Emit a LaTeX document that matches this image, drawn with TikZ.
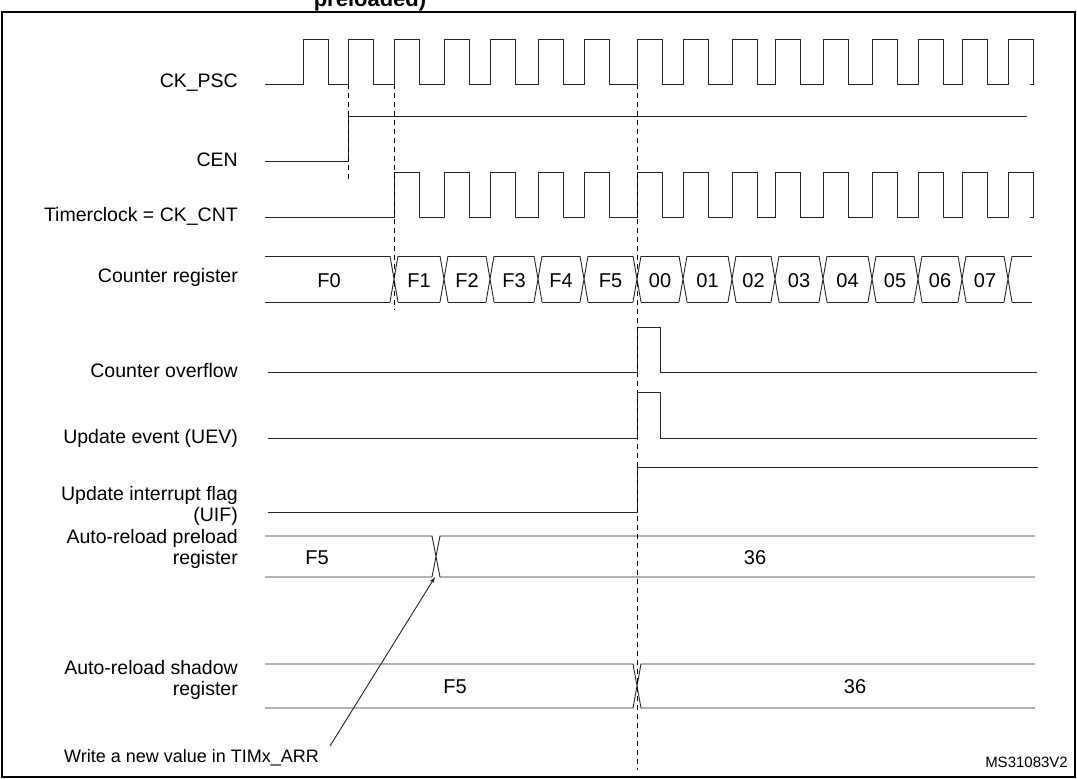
\documentclass[tikz,border=0pt]{standalone}
\usepackage{fontspec}
\setmainfont{Liberation Sans}
\begin{document}
\begin{tikzpicture}[x=1pt,y=-1pt,
  lab/.style={anchor=east,font=\fontsize{19.5}{21}\selectfont,align=right,inner sep=0},
  val/.style={font=\fontsize{20}{22}\selectfont,inner sep=0,anchor=base},
  sig/.style={line width=0.9pt,black!85},
  dsh/.style={dashed,line width=0.9pt,dash pattern=on 5pt off 4pt}]
\useasboundingbox (0,0) rectangle (1077,779);
\clip (0,0) rectangle (1077,779);
\node[font=\bfseries\fontsize{22}{24}\selectfont,anchor=base] (title) at (370,6) {preloaded)};
\draw[line width=1.2pt] (2,12) rectangle (1075,777);
\draw[line width=2.4pt] (2,12) -- (1075,12);
% labels
\node[lab] (l1) at (238,83) {CK\_PSC};
\node[lab] (l2) at (238,160) {CEN};
\node[lab] (l3) at (238,216) {Timerclock = CK\_CNT};
\node[lab] (l4) at (238,277) {Counter register};
\node[lab] (l5) at (238,371) {Counter overflow};
\node[lab] (l6) at (238,438) {Update event (UEV)};
\node[lab] (l7) at (238,506) {Update interrupt flag\\(UIF)};
\node[lab] (l8) at (238,549) {Auto-reload preload\\register};
\node[lab] (l9) at (238,680) {Auto-reload shadow\\register};
% CK_PSC
\draw[sig] (265,84) \foreach \r in {303,348,394,444,490,538,584,637,683,732,775,823,872,918,962,1008}{ -- (\r,84) -- (\r,39) -- ({\r+25},39) -- ({\r+25},84)} -- (1030,84);
% CEN
\draw[sig] (265,161) -- (348,161) -- (348,116) -- (1027,116);
% CK_CNT
\draw[sig] (265,217) \foreach \r in {394,444,490,538,584,637,683,732,775,823,872,918,962,1008}{ -- (\r,217) -- (\r,172) -- ({\r+25},172) -- ({\r+25},217)} -- (1030,217);
% counter register bus
\def\T{256}\def\B{302}
\draw[sig] (265,\T) -- (390,\T) (265,\B) -- (390,\B);
\foreach \a/\b in {394/444,444/490,490/538,538/584,584/637,637/683,683/732,732/775,775/823,823/872,872/918,918/962,962/1008}{
  \draw[sig] ({\a+4},\T) -- ({\b-4},\T) ({\a+4},\B) -- ({\b-4},\B);}
\foreach \x in {394,444,490,538,584,637,683,732,775,823,872,918,962,1008}{
  \draw[sig] ({\x-4},\T) -- ({\x+4},\B) ({\x-4},\B) -- ({\x+4},\T);}
\draw[sig] (1012,\T) -- (1032,\T) (1012,\B) -- (1032,\B);
\node[val] (c0) at (329,287) {F0};
\foreach \a/\b/\t in {394/444/F1,444/490/F2,490/538/F3,538/584/F4,584/637/F5,637/683/00,683/732/01,732/775/02,775/823/03,823/872/04,872/918/05,918/962/06,962/1008/07}{
  \node[val] at ({(\a+\b)/2},287) {\t};}
% overflow, UEV, UIF
\draw[sig] (268,372) -- (637,372) -- (637,327) -- (660,327) -- (660,372) -- (1037,372);
\draw[sig] (268,438) -- (637,438) -- (637,392) -- (660,392) -- (660,438) -- (1037,438);
\draw[sig] (268,512) -- (637,512) -- (637,467) -- (1038,467);
% preload bus
\draw[sig] (265,536) -- (432,536) -- (440,577) -- (1035,577) (265,577) -- (432,577) -- (440,536) -- (1035,536);
\node[val] (p1) at (317,564) {F5};
\node[val] (p2) at (755,564) {36};
% shadow bus
\draw[sig] (265,664) -- (633,664) -- (641,708) -- (1035,708) (265,708) -- (633,708) -- (641,664) -- (1035,664);
\node[val] (s1) at (455,693) {F5};
\node[val] (s2) at (855,693) {36};
% dashed
\draw[dsh] (348,84) -- (348,182);
\draw[dsh] (394,84) -- (394,310);
\draw[dsh] (637,84) -- (637,770);
% annotation
\node[font=\fontsize{18}{20}\selectfont,inner sep=0,anchor=west] (note) at (64,758) {Write a new value in TIMx\_ARR};
\coordinate (tip) at (435,577);
\draw[sig,-latex] (330,746) -- (tip);
\node[font=\fontsize{15}{17}\selectfont,anchor=east,inner sep=0] (ms) at (1068,762) {MS31083V2};
\end{tikzpicture}
\end{document}
